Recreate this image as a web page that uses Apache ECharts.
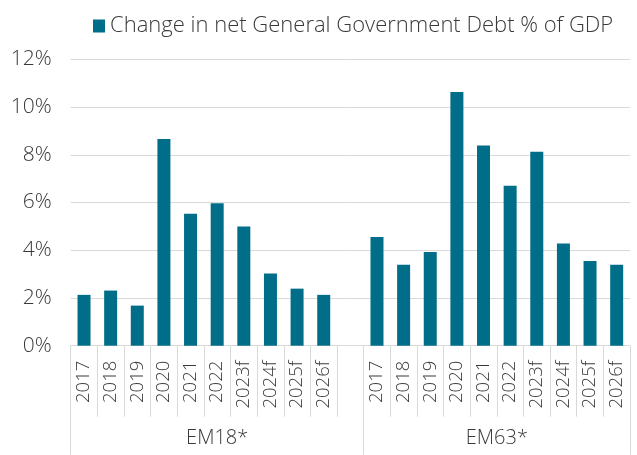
<!DOCTYPE html>
<html>
<head>
<meta charset="utf-8">
<script src="https://cdn.jsdelivr.net/npm/echarts@6/dist/echarts.min.js"></script>
<style>
html,body{margin:0;padding:0;background:#fff;}
#chart{width:637px;height:455px;}
</style>
</head>
<body>
<div id="chart"></div>
<script>
const years = ['2017','2018','2019','2020','2021','2022','2023f','2024f','2025f','2026f'];
const groups = ['EM18*','EM63*'];
const seriesName = 'Change in net General Government Debt % of GDP';
const em18 = [2.13, 2.31, 1.68, 8.66, 5.53, 5.97, 4.99, 3.02, 2.39, 2.13];
const em63 = [4.55, 3.39, 3.93, 10.63, 8.39, 6.70, 8.13, 4.28, 3.55, 3.39];
const yTicks = [0, 2, 4, 6, 8, 10, 12];

// 21 slots: group 1 (10 years + blank spacer), group 2 (10 years)
const cats = years.concat(['']).concat(years);
const values = em18.concat(['-']).concat(em63);
const groupStart = [0, years.length + 1];
const groupLabelAt = {5: 0, 15: 1};

const FONT = 'Open Sans';
const W = 300;
const TXT = '#3a3a3a';
const GRID = '#d9d9d9';

const chart = echarts.init(document.getElementById('chart'), null, {renderer: 'canvas'});
chart.setOption({
  animation: false,
  textStyle: {fontFamily: FONT, fontWeight: W},
  legend: {
    data: [seriesName],
    left: 88, top: 10, padding: 5,
    icon: 'rect', itemWidth: 12, itemHeight: 13, itemGap: 3,
    textStyle: {fontFamily: FONT, fontWeight: W, fontSize: 22, color: TXT}
  },
  grid: {left: 70.7, right: 7, top: 59.3, bottom: 109.3, containLabel: false},
  xAxis: [
    {
      type: 'category',
      data: cats,
      position: 'bottom',
      boundaryGap: true,
      axisLine: {show: true, lineStyle: {color: GRID, width: 1}},
      axisTick: {show: true, interval: 0, length: 71, lineStyle: {color: GRID, width: 1}},
      axisLabel: {interval: 0, rotate: 90, margin: 15, fontFamily: FONT, fontWeight: W, fontSize: 18.5, color: TXT}
    },
    {
      type: 'category',
      data: cats,
      position: 'bottom',
      offset: 71,
      boundaryGap: true,
      axisLine: {show: false},
      axisTick: {
        show: true, length: 38, lineStyle: {color: GRID, width: 1},
        interval: function (i) { return groupStart.indexOf(i) >= 0; }
      },
      axisLabel: {
        interval: 0, margin: 12, fontFamily: FONT, fontWeight: W, fontSize: 20, color: TXT,
        formatter: function (v, i) {
          if (groupLabelAt[i] === 0) return groups[0];
          if (groupLabelAt[i] === 1) return '{s|' + groups[1] + '}';
          return '';
        },
        rich: {s: {fontFamily: FONT, fontWeight: W, fontSize: 20, color: TXT, padding: [0, 0, 0, 26.6]}}
      }
    }
  ],
  yAxis: {
    type: 'value',
    min: 0, max: 12, interval: 2,
    axisLine: {show: false},
    axisTick: {show: false},
    splitLine: {lineStyle: {color: GRID, width: 1}},
    axisLabel: {margin: 19, fontFamily: FONT, fontWeight: W, fontSize: 21, color: TXT,
      formatter: function (v) { return yTicks.indexOf(v) >= 0 ? v + '%' : ''; }}
  },
  series: [{
    name: seriesName,
    type: 'bar',
    xAxisIndex: 0,
    data: values,
    barWidth: 13,
    itemStyle: {color: '#006e89'}
  }]
});
</script>
</body>
</html>
